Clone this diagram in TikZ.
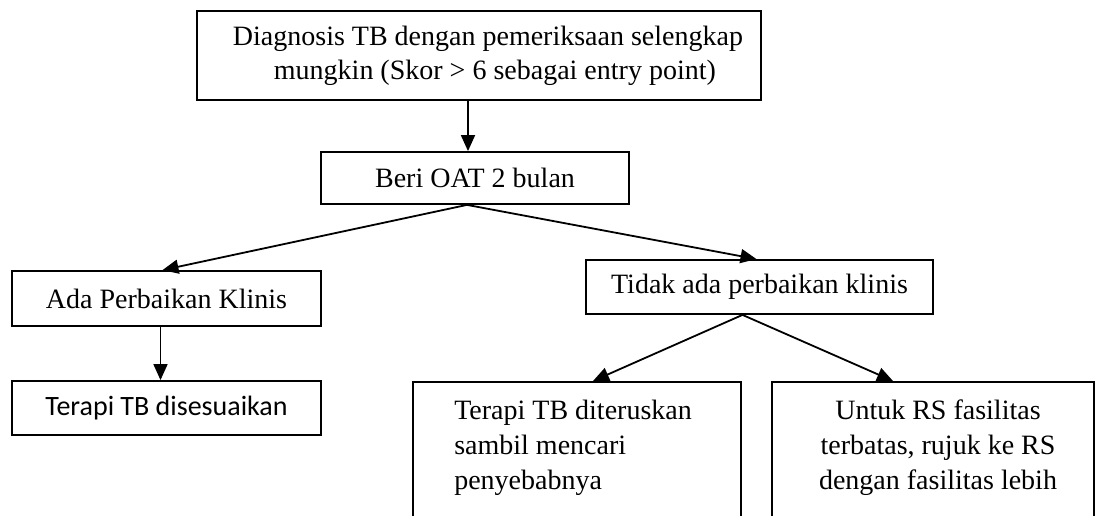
\documentclass[tikz,border=0pt]{standalone}
\usepackage{fontspec}
\setmainfont{Liberation Serif}
\newfontfamily\calibrifont{Carlito}
\usetikzlibrary{arrows.meta}

\begin{document}
\begin{tikzpicture}[x=1pt,y=-1pt,
	box/.style={draw, line width=1.8pt, inner sep=0pt, font=\fontsize{28}{34}\selectfont},
	boxtext/.style={inner sep=0pt, font=\fontsize{28}{35}\selectfont},
	flow/.style={line width=1.8pt, -{Triangle[length=16pt,width=14pt]}}]

	% canvas
	\useasboundingbox (0,0) rectangle (1096,516);
	\clip (0,0) rectangle (1096,516);

	% top of the chart
	\node[box, minimum width=564, minimum height=89, align=left] (diag) at (479,55.5)
		{\hspace*{18pt}Diagnosis TB dengan pemeriksaan selengkap\\\hspace*{59pt}mungkin (Skor > 6 sebagai entry point)};
	\node[box, minimum width=308, minimum height=52] (beri) at (475,178) {Beri OAT 2 bulan};

	% left branch
	\node[box, minimum width=309, minimum height=55] (ada) at (166.5,298.5) {Ada Perbaikan Klinis};
	\node[box, minimum width=309, minimum height=54, font=\calibrifont\fontsize{28}{34}\selectfont]
		(terapi) at (166.5,408) {Terapi TB disesuaikan};

	% right branch
	\node[box, minimum width=347, minimum height=54] (tidak) at (759.5,287) {Tidak ada perbaikan klinis};

	% open boxes, cut by the lower edge
	\node[box, anchor=north, minimum width=328, minimum height=200] (lanjut) at (577,381) {};
	\node[box, anchor=north, minimum width=322, minimum height=200] (rujuk) at (933,381) {};
	\node[boxtext, anchor=north west, align=left] (lanjutteks) at ([xshift=42,yshift=-19]lanjut.north west)
		{Terapi TB diteruskan\\sambil mencari\\penyebabnya};
	\node[boxtext, anchor=north, align=center] (rujukteks) at ([xshift=5,yshift=-19]rujuk.north)
		{Untuk RS fasilitas\\terbatas, rujuk ke RS\\dengan fasilitas lebih};

	% arrows
	\coordinate (b1) at ([xshift=-7]beri.north);
	\draw[flow] (b1 |- diag.south) -- (b1);
	\draw[flow] ([xshift=-8]beri.south) -- ([xshift=-4]ada.north);
	\draw[flow] ([xshift=-8]beri.south) -- ([xshift=-3]tidak.north);
	\draw[flow] ([xshift=-6]ada.south) -- ([xshift=-6]terapi.north);
	\draw[flow] ([xshift=-17]tidak.south) -- ([xshift=16]lanjut.north);
	\draw[flow] ([xshift=-17]tidak.south) -- ([xshift=-40]rujuk.north);

\end{tikzpicture}
\end{document}
